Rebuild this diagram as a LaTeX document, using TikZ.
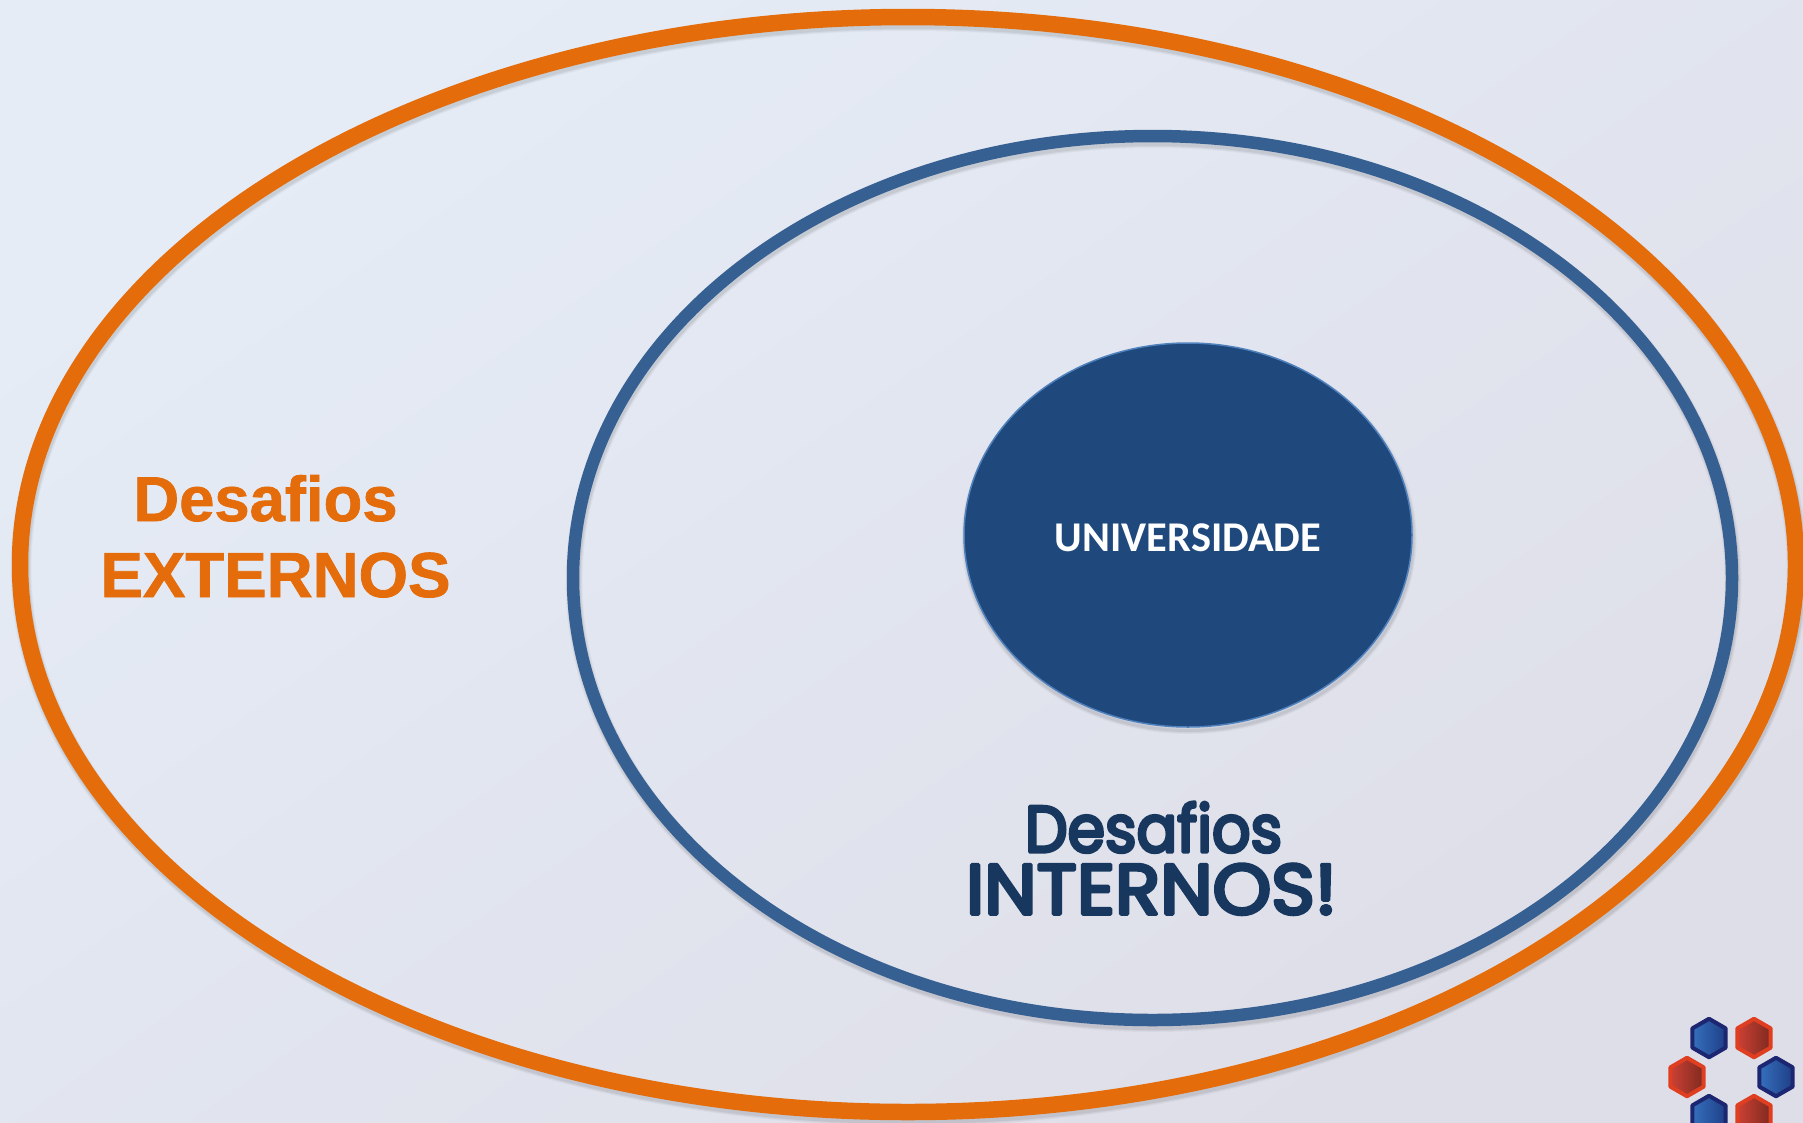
\documentclass[tikz,border=0pt]{standalone}
\usepackage{fontspec}
\usepackage{graphicx}
\usetikzlibrary{shapes.geometric}
\setmainfont{Liberation Sans}[BoldFeatures={FakeBold=1.2}]
\newfontfamily\carl{Carlito}
\newfontfamily\handf[FakeBold=5]{Poppins}
\definecolor{orangeC}{HTML}{E46C0A}
\definecolor{ringC}{HTML}{376092}
\definecolor{coreC}{HTML}{1F497D}
\definecolor{coreEdge}{HTML}{4F81BD}
\definecolor{inkC}{HTML}{17375E}
\definecolor{bgA}{HTML}{E5ECF6}
\definecolor{bgB}{HTML}{DEDEE8}
\definecolor{hexBlueA}{HTML}{3570BC}
\definecolor{hexBlueB}{HTML}{1D2670}
\definecolor{hexBlueC}{HTML}{1F3F88}
\definecolor{hexRedA}{HTML}{CC4034}
\definecolor{hexRedB}{HTML}{DF3F20}
\definecolor{hexRedC}{HTML}{7F2A20}
\tikzset{
  lbl/.style={inner sep=0pt,outer sep=0pt,anchor=base},
  hexa/.style={regular polygon,regular polygon sides=6,regular polygon rotate=30,
     minimum size=38.5pt,inner sep=0pt,outer sep=0pt,line width=4pt,line join=round,shading angle=135},
  hexblue/.style={hexa,draw=hexBlueB,left color=hexBlueA,right color=hexBlueC},
  hexred/.style={hexa,draw=hexRedB,left color=hexRedA,right color=hexRedC}
}
\newcommand{\softshadow}[4]{%
  \foreach \w/\o in {3/.03,2/.04,1/.06}{%
    \draw[black,opacity=\o,line width=#4+\w*2pt] (#1+1,#2+3.5) ellipse #3;}}
\begin{document}
\begin{tikzpicture}[x=1pt,y=-1pt]
\useasboundingbox (0,0) rectangle (1803,1122);
\clip (0,0) rectangle (1803,1122);
\shade[left color=bgB,right color=bgA,shading angle=-145] (0,0) rectangle (1803,1122);
% outer ring
\softshadow{908}{564.5}{[x radius=888pt,y radius=547.5pt]}{15pt}
\draw[orangeC,line width=16.5pt] (908,564.5) ellipse [x radius=888pt,y radius=547.5pt];
% middle ring
\softshadow{1152.5}{578}{[x radius=579.5pt,y radius=442pt]}{11pt}
\draw[ringC,line width=12.5pt] (1152.5,578) ellipse [x radius=579.5pt,y radius=442pt];
% core
\softshadow{1188}{535}{[x radius=224pt,y radius=192pt]}{1pt}
\draw[coreEdge,fill=coreC,line width=1.5pt] (1188,535) ellipse [x radius=224pt,y radius=192pt];
% labels
\node[lbl,text=white] (uni) at (1188,551) {\resizebox{266pt}{!}{\carl\bfseries UNIVERSIDADE}};
\node[lbl,text=orangeC] (ext1) at (265.5,521) {\resizebox{264pt}{!}{\pgfsetmiterjoin\bfseries Desafios}};
\node[lbl,text=orangeC] (ext2) at (275.5,597) {\resizebox{350pt}{!}{\pgfsetmiterjoin\bfseries EXTERNOS}};
\node[lbl,text=inkC] (int1) at (1153.5,852) {\resizebox{257pt}{50pt}{\pgfsetroundjoin\handf Desafios}};
\node[lbl,text=inkC] (int2) at (1151.5,914) {\resizebox{371pt}{50pt}{\pgfsetroundjoin\handf INTERNOS!}};
% logo
\node[hexblue] (h1) at (1709,1038) {};
\node[hexred]  (h2) at (1754,1038) {};
\node[hexred]  (h3) at (1687,1077) {};
\node[hexblue] (h4) at (1776,1077) {};
\node[hexblue] (h5) at (1709,1115) {};
\node[hexred]  (h6) at (1754,1115) {};
\end{tikzpicture}
\end{document}
